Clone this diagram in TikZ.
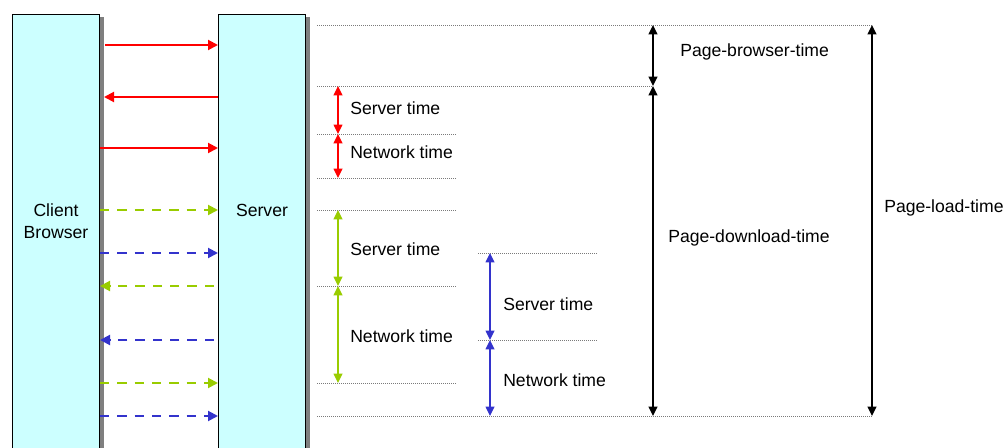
\documentclass[tikz,border=0pt]{standalone}
\usepackage{fontspec}
\setmainfont{Liberation Sans}
\usetikzlibrary{arrows.meta,positioning,shadows}
\definecolor{laneFill}{HTML}{CCFFFF}
\definecolor{markGray}{HTML}{7A7A7A}
\definecolor{callRed}{HTML}{FF0000}
\definecolor{callGreen}{HTML}{99CC00}
\definecolor{callBlue}{HTML}{3333CC}

\begin{document}
\begin{tikzpicture}[
  x=0.75pt, y=-0.75pt,
  >={Triangle[length=7.5pt,width=7.5pt]},
  lane/.style={
    draw=black,
    fill=laneFill,
    line width=0.75pt,
    minimum width=65.25pt,
    minimum height=337.5pt,
    inner sep=0pt,
    drop shadow={shadow xshift=3pt, shadow yshift=-2pt, fill=black, opacity=0.5}
  },
  lanetext/.style={align=center, font=\fontsize{13.2}{16.5}\selectfont},
  timelabel/.style={anchor=west, inner sep=0pt, font=\fontsize{13.2}{16}\selectfont},
  msg/.style={->, line width=1.5pt},
  async/.style={msg, dash pattern=on 7pt off 6pt},
  markline/.style={draw=markGray, line width=0.6pt, dash pattern=on 0.75pt off 0.75pt},
  span/.style={<->, >={Triangle[length=7pt,width=6.5pt]}, line width=1.1pt}
]
\useasboundingbox (0,0) rectangle (1008,448);
\clip (0,0) rectangle (1008,448);

% client and server lanes
\node[lane, anchor=north west] (client) at (12,14) {};
\node[lane, anchor=north west] (server) at (218,14) {};
\node[lanetext] (client-name) at (client.center |- 0,221) {Client\\Browser};
\node[lanetext] (server-name) at (server.center |- 0,210) {Server};

% messages between the lanes
\draw[msg, callRed, shorten <=4pt] (client.east |- 0,45) -- (server.west |- 0,45);
\draw[msg, callRed, shorten >=3pt] (server.west |- 0,97) -- (client.east |- 0,97);
\draw[msg, callRed] (client.east |- 0,148) -- (server.west |- 0,148);
\draw[async, callGreen] (client.east |- 0,210) -- (server.west |- 0,210);
\draw[async, callBlue] (client.east |- 0,253) -- (server.west |- 0,253);
\draw[async, callGreen, shorten <=3pt] (server.west |- 0,286) -- (client.east |- 0,286);
\draw[async, callBlue, shorten <=3pt] (server.west |- 0,340) -- (client.east |- 0,340);
\draw[async, callGreen] (client.east |- 0,383) -- (server.west |- 0,383);
\draw[async, callBlue] (client.east |- 0,416) -- (server.west |- 0,416);

% time marks
\foreach \n/\y/\xa/\xb in {a/25/317/872, b/86/317/652, c/134/317/456,
    d/178/317/456, e/210/317/456, f/253/478/597, g/286/317/456,
    h/340/478/597, i/383/317/456, j/416/317/872} {
  \coordinate (mark-\n-l) at (\xa,\y);
  \coordinate (mark-\n-r) at (\xb,\y);
  \draw[markline] (mark-\n-l) -- (mark-\n-r);
}

% axes of the spans
\coordinate (axis-left) at (338,0);
\coordinate (axis-mid) at (490,0);
\coordinate (axis-page) at (653,0);
\coordinate (axis-load) at (872,0);

\draw[span, callRed] (axis-left |- mark-b-l) -- (axis-left |- mark-c-l);
\draw[span, callRed] (axis-left |- mark-c-l) -- (axis-left |- mark-d-l);
\draw[span, callGreen] (axis-left |- mark-e-l) -- (axis-left |- mark-g-l);
\draw[span, callGreen] (axis-left |- mark-g-l) -- (axis-left |- mark-i-l);
\draw[span, callBlue] (axis-mid |- mark-f-l) -- (axis-mid |- mark-h-l);
\draw[span, callBlue] (axis-mid |- mark-h-l) -- (axis-mid |- mark-j-l);
\draw[span, black, line width=1.3pt] (axis-page |- mark-a-l) -- (axis-page |- mark-b-l);
\draw[span, black, line width=1.3pt] (axis-page |- mark-b-l) -- (axis-page |- mark-j-l);
\draw[span, black, line width=1.3pt] (axis-load |- mark-a-l) -- (axis-load |- mark-j-l);

\node[timelabel] (red-server) at (350,108) {Server time};
\node[timelabel] (red-network) at (350,152) {Network time};
\node[timelabel] (green-server) at (350,249) {Server time};
\node[timelabel] (green-network) at (350,336) {Network time};
\node[timelabel] (blue-server) at (503,304) {Server time};
\node[timelabel] (blue-network) at (503,380) {Network time};
\node[timelabel] (page-browser) at (680,52) {Page-browser-time};
\node[timelabel] (page-download) at (668,238) {Page-download-time};
\node[timelabel] (page-load) at (884,208) {Page-load-time};

\end{tikzpicture}
\end{document}
